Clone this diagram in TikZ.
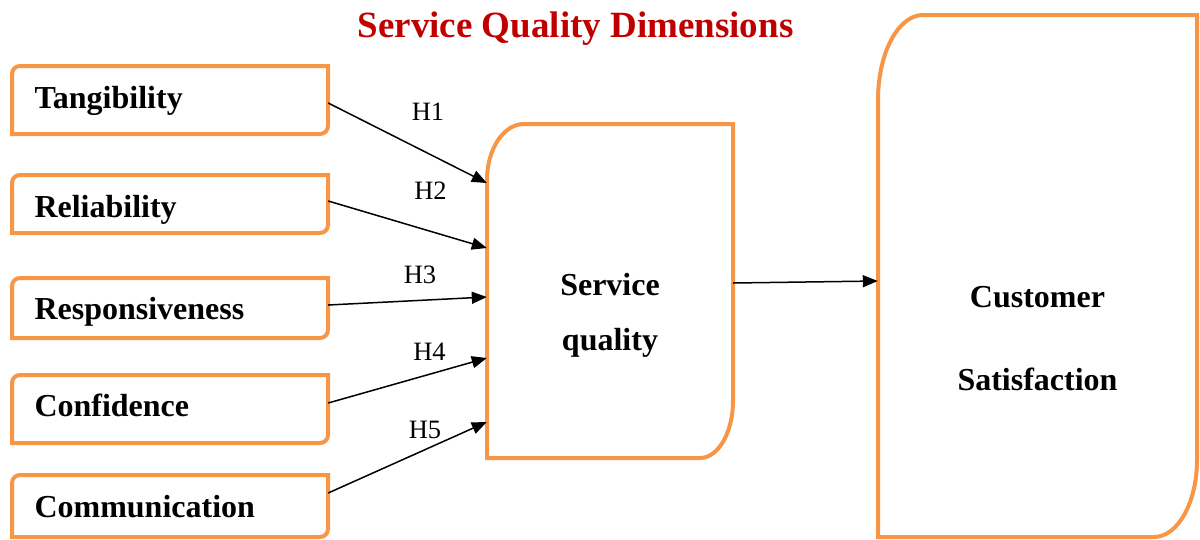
\documentclass[tikz,border=0pt]{standalone}
\usepackage{fontspec}
\setmainfont{Liberation Serif}
\usetikzlibrary{arrows.meta}
\definecolor{boxorange}{HTML}{F79646}
\definecolor{titlered}{HTML}{C00000}
\newcommand\cornbox[8]{\draw[obox] (#1,#2+#6) .. controls (#1,#2+0.448*#6) and (#1+0.448*#5,#2) .. (#1+#5,#2) -- (#3,#2) -- (#3,#4-#8) .. controls (#3,#4-0.448*#8) and (#3-0.448*#7,#4) .. (#3-#7,#4) -- (#1,#4) -- cycle;}
\tikzset{
  obox/.style={draw=boxorange, line width=4pt},
  lab/.style={font=\fontsize{32}{38}\bfseries\selectfont, text width=271pt, align=left, inner xsep=22.5pt, inner ysep=0pt, minimum width=316pt, text height=21.2pt, text depth=0pt},
  holder/.style={inner sep=0pt},
  bigtxt/.style={align=center, inner sep=0pt},
  hlab/.style={font=\fontsize{26.5}{30}\selectfont, inner sep=0pt, anchor=base},
  arr/.style={line width=1.5pt, -{Triangle[length=15pt,width=12pt]}}
}
\begin{document}
\begin{tikzpicture}[x=1pt,y=-1pt]
\useasboundingbox (0,0) rectangle (1200,539);
% title
\node[inner sep=0pt, anchor=base, text=titlered, font=\fontsize{37}{44}\bfseries\selectfont] (title) at (575.5,37.5) {Service Quality Dimensions};
% left boxes
\cornbox{12}{66}{328}{134}{8}{8}{8}{8}
\cornbox{12}{175}{328}{233}{8}{8}{8}{8}
\cornbox{12}{278}{328}{338}{8}{8}{8}{8}
\cornbox{12}{375}{328}{443}{8}{8}{8}{8}
\cornbox{12}{475}{328}{537}{8}{8}{8}{8}
\node[lab] (tang) at (170,97.5) {Tangibility};
\node[lab] (rel) at (170,206.5) {Reliability};
\node[lab] (resp) at (170,309) {Responsiveness};
\node[lab] (conf) at (170,406) {Confidence};
\node[lab] (comm) at (170,506.5) {Communication};
% service quality
\cornbox{487}{124}{733}{458}{37}{56}{33}{57}
\node[holder, minimum width=246pt, minimum height=334pt] (sq) at (610,291) {};
\node[bigtxt, font=\fontsize{32}{55}\bfseries\selectfont] (sqt) at (610,315) {Service\\quality};
% customer satisfaction
\cornbox{878}{15}{1197}{537}{45}{85}{43}{77}
\node[holder, minimum width=319pt, minimum height=522pt] (cs) at (1037.5,276) {};
\node[bigtxt, font=\fontsize{32}{83}\bfseries\selectfont] (cst) at (1037.5,338.5) {Customer\\Satisfaction};
% arrows
\draw[arr] ([yshift=-5.5pt]tang.east) -- ([yshift=108pt]sq.west);
\draw[arr] ([yshift=5.5pt]rel.east) -- ([yshift=43pt]sq.west);
\draw[arr] ([yshift=4pt]resp.east) -- ([yshift=-6pt]sq.west);
\draw[arr] ([yshift=3pt]conf.east) -- ([yshift=-67pt]sq.west);
\draw[arr] ([yshift=13.5pt]comm.east) -- ([yshift=-131pt]sq.west);
\draw[arr] ([yshift=8pt]sq.east) -- ([yshift=-5pt]cs.west);
% hypothesis labels
\node[hlab] (h1) at (428,120) {H1};
\node[hlab] (h2) at (430.5,199) {H2};
\node[hlab] (h3) at (420,283) {H3};
\node[hlab] (h4) at (429.5,360) {H4};
\node[hlab] (h5) at (425,438) {H5};
\end{tikzpicture}
\end{document}
